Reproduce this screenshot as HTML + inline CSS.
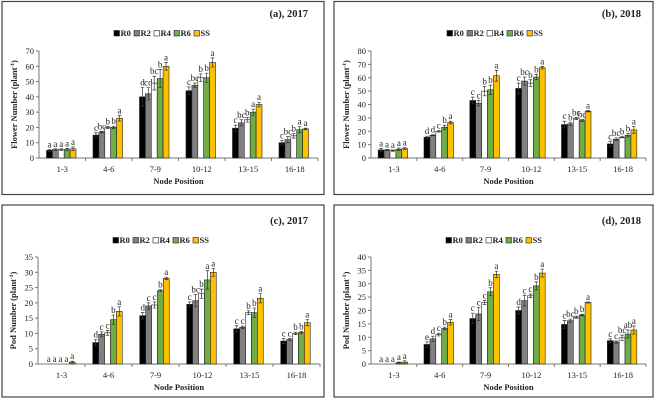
<!DOCTYPE html>
<html><head><meta charset="utf-8"><style>
html,body{margin:0;padding:0;background:#fff;}
svg{display:block;font-family:"Liberation Serif",serif;}
svg text{font-family:"Liberation Serif",serif;}
</style></head><body>
<svg id="fig" width="657" height="402" viewBox="0 0 657 402" xmlns="http://www.w3.org/2000/svg" font-family="Liberation Serif, serif"></svg>
<script>
const categories = ["1-3","4-6","7-9","10-12","13-15","16-18"];
const seriesNames = ["R0","R2","R4","R6","SS"];
const seriesColors = ["#000000","#808080","#ffffff","#70ad47","#ffc000"];

const aVals = [[5,5.5,5.5,5.5,6],[15,17,20,20,26],[40,42,49,52,60],[44,47.5,52.5,52.5,62.5],[19.5,23,25,30,35],[10,12,14.5,18.5,19]];
const aErr = [[0.6,0.5,0.5,0.8,1.2],[1.5,0.5,0.7,0.8,1.8],[6,4,4.5,6,2.5],[2.5,1.5,2.5,3,3],[2,2,1.5,2,1.5],[1.5,2,1.5,2,0.5]];
const aLet = [["a","a","a","a","a"],["c","bc","b","b","a"],["d","cd","bc","b","a"],["c","bc","b","b","a"],["c","bc","b","a","a"],["c","bc","b","a","a"]];

const bVals = [[6,6,5.5,6.5,7],[15.5,17,20,23,26.5],[43,41,50,51,61.5],[52,57.5,56,60.5,67.5],[25,25.5,29.5,28,35],[10.5,14,15.5,17,21]];
const bErr = [[1.2,0.5,0.5,1,0.7],[0.8,0.4,0.6,1.5,1],[2.5,2,3.5,3.5,4],[4,3,2.5,2,1],[2.5,1,0.8,0.8,0.5],[2,1,0.4,1.3,2.5]];
const bLet = [["a","a","a","a","a"],["d","d","c","b","a"],["c","c","b","b","a"],["c","bc","b","b","a"],["c","b","bc","bc","a"],["c","bc","b","b","a"]];

const cVals = [[0,0,0,0,0.6],[7,9.7,10.2,14.5,17.2],[15.8,19,19.3,24,28],[19.5,20.7,23,27.5,30],[11.5,12,16.8,16.8,21.5],[7.5,8,10,10.3,13.5]];
const cErr = [[0,0,0,0,0.3],[1,0.8,0.8,1.5,1.5],[1,1,1,0.3,0.4],[0.8,2,1.5,3,1.3],[1,0.4,0.6,1.5,1.5],[0.8,0.3,0.4,0.4,1]];
const cLet = [["a","a","a","a","a"],["d","c","c","b","a"],["d","c","c","b","a"],["c","bc","b","a","a"],["c","c","b","b","a"],["c","c","b","b","a"]];

const dVals = [[0,0,0,0.5,0.7],[7.3,9.4,11,13.3,15.6],[17,18.7,23,27,33.5],[20,23.7,25.5,29.2,34],[14.8,16.2,17.5,18.3,23],[8.7,8.2,9.8,11.2,12.7]];
const dErr = [[0,0,0,0.2,0.5],[1,1,0.5,0.5,1],[2,2.5,0.7,1.5,1.2],[1.3,2,0.7,1.5,1.5],[1.5,0.6,0.4,0.3,0.2],[0.7,0.4,1,1.5,1.5]];
const dLet = [["a","a","a","a","a"],["e","d","c","b","a"],["c","c","c","b","a"],["d","c","c","b","a"],["c","bc","b","b","a"],["c","c","bc","ab","a"]];

const aTicks = [0,10,20,30,40,50,60,70];
const bTicks = [0,10,20,30,40,50,60,70,80];
const cTicks = [0,5,10,15,20,25,30,35];
const dTicks = [0,5,10,15,20,25,30,35,40];

const NS = "http://www.w3.org/2000/svg";
const svg = document.getElementById("fig");
function mk(tag, attrs, parent){
  const e = document.createElementNS(NS, tag);
  for (const k in attrs) e.setAttribute(k, attrs[k]);
  if (tag === "text") e.setAttribute("font-family", "Liberation Serif, serif");
  (parent||svg).appendChild(e);
  return e;
}

function panel(p){
  const g = mk("g", {});
  
  
  const border = mk("rect", {x:p.bx, y:p.by, width:p.bw, height:p.bh, fill:"none", stroke:"#444", "stroke-width":1.2}, g);
  
  
  const maxV = p.ticks[p.ticks.length-1];
  const yS = v => p.y0 - (v/maxV)*(p.y0 - p.yTop);
  const cw = (p.xEnd - p.x0)/categories.length;
  const xC = i => p.x0 + i*cw;
  const bw = 5.9;
  const ya = mk("line", {x1:p.x0, y1:p.y0, x2:p.x0, y2:p.yTop, stroke:"#777", "stroke-width":1}, g);
  
  
  p.ticks.forEach(t => {
    const y = yS(t);
    mk("line", {x1:p.x0-3, y1:y, x2:p.x0, y2:y, stroke:"#777", "stroke-width":1}, g);
    const tl = mk("text", {x:p.x0-5, y:y+3, "font-size":8.5, "text-anchor":"end", fill:"#222"}, g);
    tl.textContent = t;
    
    
  });
  const xa = mk("line", {x1:p.x0, y1:p.y0, x2:p.xEnd, y2:p.y0, stroke:"#777", "stroke-width":1}, g);
  
  
  categories.forEach((c, i) => {
    mk("line", {x1:xC(i+1), y1:p.y0, x2:xC(i+1), y2:p.y0+3, stroke:"#777", "stroke-width":1}, g);
    const xl = mk("text", {x:xC(i)+cw/2, y:p.y0+14, "font-size":8.5, "text-anchor":"middle", fill:"#222"}, g);
    xl.textContent = c;
    
    
    const start = xC(i) + (cw - 5*bw)/2 - 1;
    p.vals[i].forEach((v, s) => {
      const x = start + s*bw;
      const yt = yS(v);
      const r = mk("rect", {x:x, y:yt, width:bw, height:Math.max(0, p.y0-yt), fill:seriesColors[s], stroke:"#222", "stroke-width":0.6}, g);
      
      
      const e = p.err[i][s];
      const cx = x + bw/2;
      if (e > 0){
        const ye1 = yS(v+e), ye2 = yS(Math.max(0,v-e));
        const eb = mk("path", {d:`M${cx},${ye1}V${ye2}M${cx-1.8},${ye1}H${cx+1.8}M${cx-1.8},${ye2}H${cx+1.8}`, stroke:"#333", "stroke-width":0.7, fill:"none"}, g);
        
        
      }
      const lt = mk("text", {x:cx, y:yS(v+e)-2, "font-size":9, "text-anchor":"middle", fill:"#222"}, g);
      lt.textContent = p.lets[i][s];
      
      
    });
  });
  const yt = mk("text", {x:0, y:0, "font-size":8.5, "font-weight":"bold", "text-anchor":"middle", fill:"#222", transform:`translate(${p.x0-22},${(p.y0+p.yTop)/2}) rotate(-90)`}, g);
  yt.innerHTML = p.ytitle + ' (plant<tspan font-size="5.5" dy="-3">-1</tspan><tspan dy="3">)</tspan>';
  
  
  const xt = mk("text", {x:(p.x0+p.xEnd)/2, y:p.y0+26, "font-size":8.5, "font-weight":"bold", "text-anchor":"middle", fill:"#222"}, g);
  xt.textContent = "Node Position";
  
  
  const tt = mk("text", {x:p.tx, y:p.ty, "font-size":10.5, "font-weight":"bold", "text-anchor":"end", fill:"#222"}, g);
  tt.textContent = p.title;
  
  
  let lx = p.lx;
  seriesNames.forEach((n, s) => {
    const sw = mk("rect", {x:lx, y:p.ly-5.5, width:5.5, height:5.5, fill:seriesColors[s], stroke:"#222", "stroke-width":0.6}, g);
    
    
    const t = mk("text", {x:lx+6.5, y:p.ly, "font-size":8.5, "font-weight":"bold", fill:"#222"}, g);
    t.textContent = n;
    
    
    lx += 20;
  });
}

panel({name:"panel-a", bx:2, by:1.5, bw:322, bh:193, x0:39, y0:158, yTop:51, xEnd:318, ticks:aTicks, vals:aVals, err:aErr, lets:aLet, ytitle:"Flower Number", title:"(a), 2017", tx:308, ty:17, lx:114, ly:36});
panel({name:"panel-b", bx:334, by:1.5, bw:319, bh:193, x0:371, y0:158, yTop:51, xEnd:646, ticks:bTicks, vals:bVals, err:bErr, lets:bLet, ytitle:"Flower Number", title:"(b), 2018", tx:641, ty:17, lx:447, ly:36});
panel({name:"panel-c", bx:2, by:205, bw:322, bh:192, x0:38, y0:364, yTop:257, xEnd:320, ticks:cTicks, vals:cVals, err:cErr, lets:cLet, ytitle:"Pod Number", title:"(c), 2017", tx:308, ty:224, lx:113, ly:243});
panel({name:"panel-d", bx:334, by:205, bw:319, bh:192, x0:371, y0:364, yTop:257, xEnd:646, ticks:dTicks, vals:dVals, err:dErr, lets:dLet, ytitle:"Pod Number", title:"(d), 2018", tx:641, ty:224, lx:446, ly:243});
</script>
</body></html>
